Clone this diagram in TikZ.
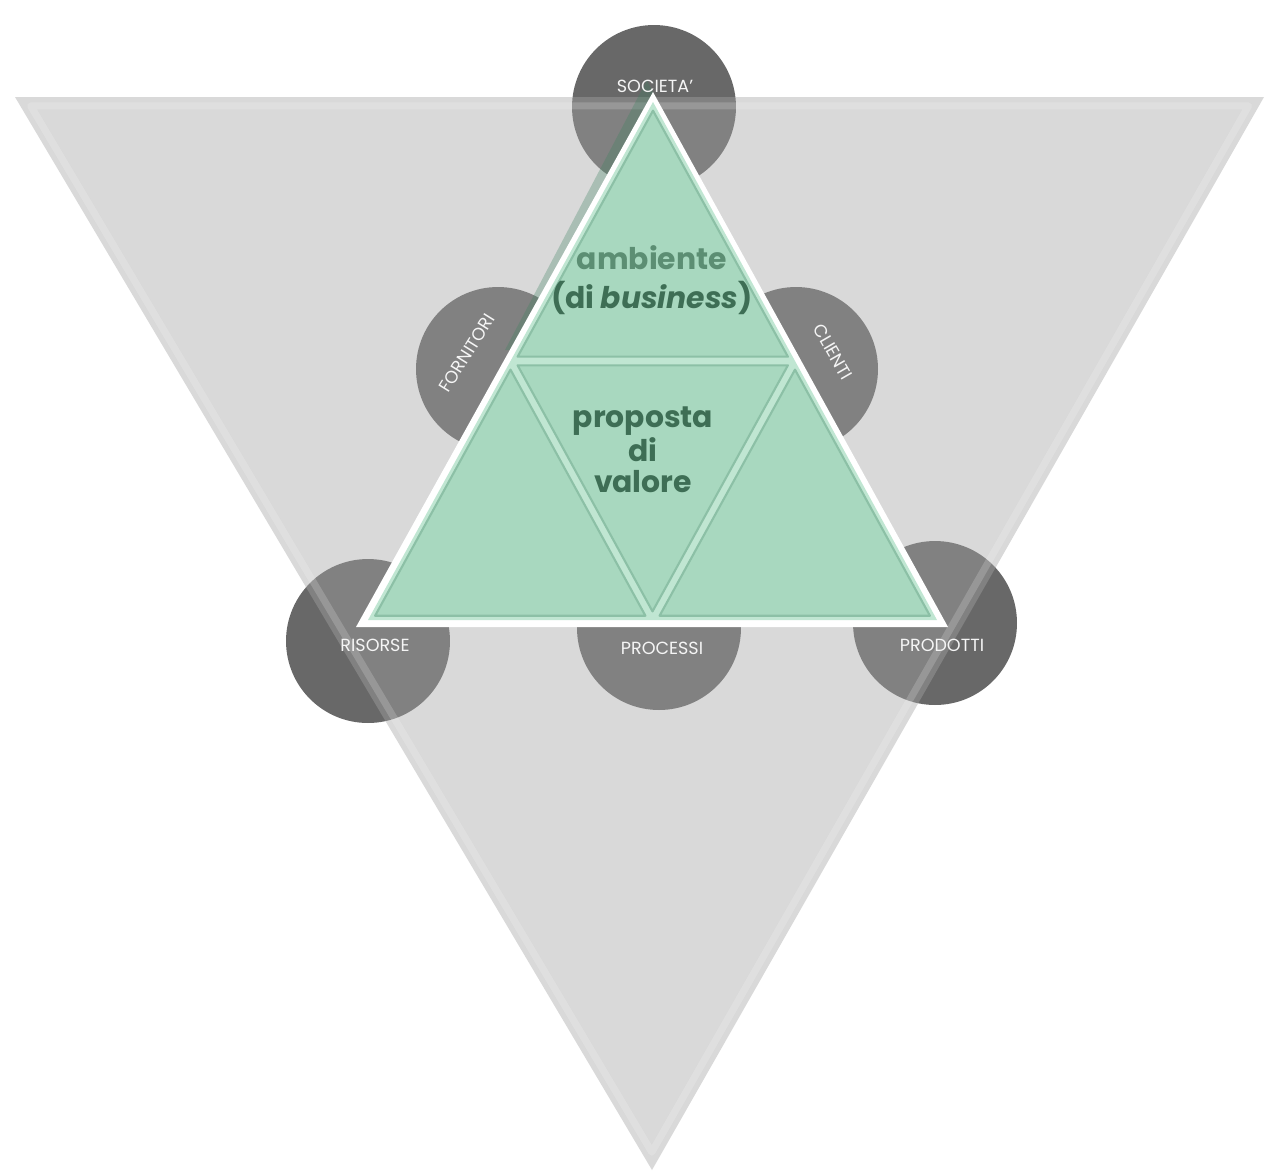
\documentclass[tikz,border=0pt]{standalone}
\usepackage{fontspec}
\setmainfont{Poppins}
\usepackage{xcolor}
\definecolor{bmdisc}{RGB}{104,104,104}
\definecolor{bmshade}{RGB}{164,164,164}
\definecolor{bmgreen}{RGB}{168,216,191}
\definecolor{bmgap}{RGB}{192,230,210}
\definecolor{bmedge}{RGB}{140,192,166}
\definecolor{bmtext}{RGB}{62,110,85}
\definecolor{bmtextlight}{RGB}{92,142,115}
\definecolor{bmshadow}{RGB}{60,130,95}
\usetikzlibrary{calc}

\begin{document}
\begin{tikzpicture}[x=0.02cm, y=-0.02cm,
  disc/.style={circle, fill=bmdisc, minimum size=3.28cm, inner sep=0pt},
  disclabel/.style={text=white!92!gray, font=\fontsize{10}{12}\selectfont},
  subtri/.style={fill=bmgreen, draw=bmedge, line width=1.2pt, line join=round},
  bigtext/.style={text=bmtext, font=\fontsize{17}{18}\selectfont\bfseries, align=center}]

  \useasboundingbox (0,0) rectangle (1266,1174);

  % --- Discs behind everything ---
  \node[disc] (soc)  at (654,107) {};
  \node[disc] (forn) at (498,369) {};
  \node[disc] (cli)  at (796,369) {};
  \node[disc] (ris)  at (368,641) {};
  \node[disc] (proc) at (659,628) {};
  \node[disc] (prod) at (935,623) {};

  % --- Big inverted triangle (see-through) ---
  \coordinate (bt1) at (15,97);
  \coordinate (bt2) at (1264,97);
  \coordinate (bt3) at (652,1170);
  \coordinate (bc) at (barycentric cs:bt1=1,bt2=1,bt3=1);
  \fill[bmshade, opacity=0.42] (bt1) -- (bt2) -- (bt3) -- cycle;
  \draw[white, opacity=0.18, line width=4pt, line join=round]
       ($(bc)!0.975!(bt1)$) -- ($(bc)!0.975!(bt2)$) -- ($(bc)!0.975!(bt3)$) -- cycle;

  % --- Green triangle ---
  \coordinate (gt) at (653,102);
  \coordinate (gl) at (368,620);
  \coordinate (gr) at (937,620);
  \coordinate (ml) at ($(gt)!0.5!(gl)$);
  \coordinate (mr) at ($(gt)!0.5!(gr)$);
  \coordinate (mb) at ($(gl)!0.5!(gr)$);
  % shadow and outline
  \fill[bmshadow, opacity=0.3] (647,80) -- (505,350) -- (780,350) -- cycle;
  \fill[white] (653,92) -- (356,627) -- (948,627) -- cycle;
  \fill[bmgap] (gt) -- (gl) -- (gr) -- cycle;
  % four parts
  \coordinate (ctop) at (barycentric cs:gt=1,ml=1,mr=1);
  \coordinate (cmid) at (barycentric cs:ml=1,mr=1,mb=1);
  \coordinate (clft) at (barycentric cs:ml=1,gl=1,mb=1);
  \coordinate (crgt) at (barycentric cs:mr=1,mb=1,gr=1);
  \draw[subtri] ($(ctop)!0.95!(gt)$) -- ($(ctop)!0.95!(ml)$) -- ($(ctop)!0.95!(mr)$) -- cycle;
  \draw[subtri] ($(cmid)!0.95!(ml)$) -- ($(cmid)!0.95!(mr)$) -- ($(cmid)!0.95!(mb)$) -- cycle;
  \draw[subtri] ($(clft)!0.95!(ml)$) -- ($(clft)!0.95!(gl)$) -- ($(clft)!0.95!(mb)$) -- cycle;
  \draw[subtri] ($(crgt)!0.95!(mr)$) -- ($(crgt)!0.95!(mb)$) -- ($(crgt)!0.95!(gr)$) -- cycle;

  % --- Texts ---
  \node[bigtext, text=bmtextlight] (amb) at (652,258) {ambiente};
  \node[bigtext] (bus) at (652,298) {(di \textit{business})};
  \node[bigtext] (prop) at (643,450) {proposta\\di\\valore};

  \node[disclabel] (soclbl) at (655,86) {SOCIETA'};
  \node[disclabel, rotate=58] (fornlbl) at (467,353) {FORNITORI};
  \node[disclabel, rotate=-60] (clilbl) at (833,352) {CLIENTI};
  \node[disclabel] (rislbl) at (375,645) {RISORSE};
  \node[disclabel] (proclbl) at (662,648) {PROCESSI};
  \node[disclabel] (prodlbl) at (942,645) {PRODOTTI};
\end{tikzpicture}
\end{document}
